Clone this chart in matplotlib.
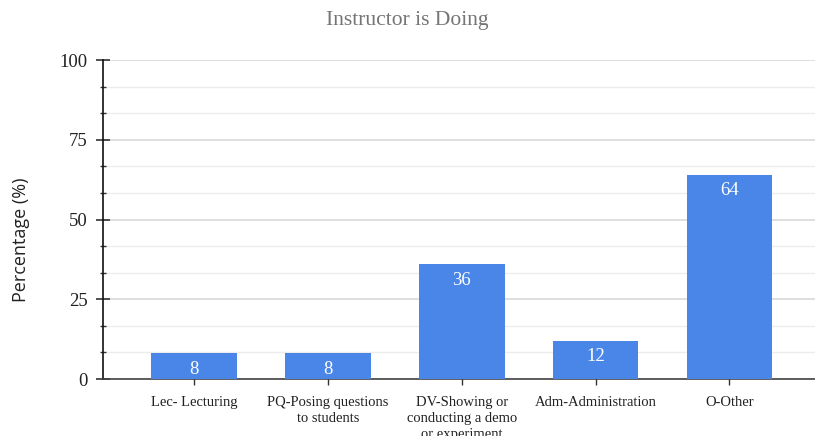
import numpy as np
import matplotlib.pyplot as plt
from matplotlib.ticker import MultipleLocator

# chart data
categories = ['Lec- Lecturing', 'PQ-Posing questions\nto students',
              'DV-Showing or\nconducting a demo\nor experiment',
              'Adm-Administration', 'O-Other']
values = [8, 8, 36, 12, 64]

bar_color = '#4a86e8'
serif = ['Liberation Serif', 'DejaVu Serif']

fig = plt.figure(figsize=(8.15, 4.36), dpi=100)
ax = fig.add_axes([103 / 815, 1 - 379 / 436, 1 - 103 / 815, 319 / 436])

x = np.arange(len(categories))
bars = ax.bar(x, values, width=0.64, color=bar_color, zorder=3)

for b, v in zip(bars, values):
    ax.annotate(str(v), (b.get_x() + b.get_width() / 2, v), xytext=(0, -5.5),
                textcoords='offset points', ha='center', va='top',
                color='white', fontsize=13.5, family=serif, zorder=4)

ax.set_xlim(-0.68, 4.64)
ax.set_ylim(0, 100)
ax.yaxis.set_major_locator(MultipleLocator(25))
ax.yaxis.set_minor_locator(MultipleLocator(25 / 3))
ax.grid(True, which='major', axis='y', color='#d9d9d9', linewidth=1.2, zorder=0)
ax.grid(True, which='minor', axis='y', color='#ececec', linewidth=1.0, zorder=0)

ax.set_xticks(x)
ax.set_xticklabels(categories, fontsize=10.5, family=serif, color='#222222',
                   linespacing=1.3)
ax.tick_params(axis='x', direction='inout', length=9, width=1, color='#333333', pad=8)
ax.tick_params(axis='y', which='major', direction='inout', length=10, width=1.2,
               color='#333333', labelsize=13.5, pad=6)
ax.tick_params(axis='y', which='minor', direction='inout', length=4, width=1,
               color='#333333')
for lbl in ax.get_yticklabels():
    lbl.set_family(serif)
    lbl.set_color('#222222')

ax.spines['top'].set_visible(False)
ax.spines['right'].set_visible(False)
ax.spines['left'].set_color('#111111')
ax.spines['bottom'].set_color('#444444')
ax.spines['left'].set_linewidth(1.2)
ax.spines['bottom'].set_linewidth(1.2)

ax.set_ylabel('Percentage (%)', fontsize=13, family=['Open Sans', 'DejaVu Sans'],
              color='#222222')
ax.yaxis.set_label_coords(-73 / 712, (379 - 240) / 319)
fig.text(0.5, 1 - 21 / 436, 'Instructor is Doing', ha='center', va='center',
         fontsize=15.5, family=serif, color='#757575')

fig.savefig('out.png', dpi=100)
